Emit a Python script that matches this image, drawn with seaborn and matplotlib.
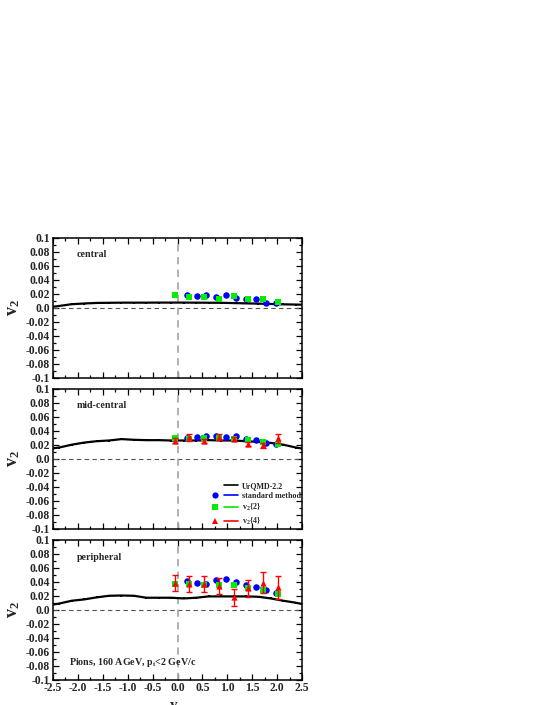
import numpy as np
import pandas as pd
import seaborn as sns
import matplotlib
matplotlib.use("Agg")
import matplotlib.pyplot as plt
from matplotlib.lines import Line2D
from matplotlib.legend_handler import HandlerTuple
from matplotlib.ticker import MultipleLocator, FixedLocator, FixedFormatter

# ---------------- data ----------------
model_x = [-2.5, -2.375, -2.125, -1.875, -1.625, -1.375, -1.125, -0.875, -0.625, -0.375, -0.125,
           0.125, 0.375, 0.625, 0.875, 1.125, 1.375, 1.625, 1.875, 2.125, 2.375, 2.5]
central_model = [0.0014, 0.0025, 0.005, 0.006, 0.0068, 0.007, 0.0072, 0.0072, 0.0072, 0.0073, 0.0073,
                 0.0073, 0.0072, 0.0071, 0.007, 0.0066, 0.0062, 0.0058, 0.0053, 0.0048, 0.0045, 0.0043]
mid_model = [0.0148, 0.016, 0.020, 0.023, 0.025, 0.026, 0.028, 0.027, 0.0265, 0.0265, 0.026,
             0.026, 0.026, 0.0265, 0.026, 0.026, 0.025, 0.024, 0.0225, 0.020, 0.016, 0.0145]
peri_model = [0.007, 0.0085, 0.0125, 0.0144, 0.0173, 0.0196, 0.020, 0.0196, 0.0168, 0.0168, 0.0168,
              0.0158, 0.0168, 0.0187, 0.0187, 0.0187, 0.0187, 0.0182, 0.0158, 0.0125, 0.0097, 0.0078]

std_x = [0.19, 0.39, 0.58, 0.78, 0.98, 1.18, 1.38, 1.58, 1.78, 1.97]
central_std = [0.0186, 0.0167, 0.0186, 0.0149, 0.0186, 0.0134, 0.012, 0.0125, 0.0063, 0.0072]
mid_std = [0.0296, 0.031, 0.0324, 0.032, 0.0306, 0.032, 0.028, 0.0262, 0.0229, 0.0214]
peri_std = [0.041, 0.038, 0.036, 0.042, 0.0433, 0.040, 0.0357, 0.0324, 0.0272, 0.023]

cum_x = [-0.06, 0.23, 0.535, 0.83, 1.13, 1.42, 1.725, 2.02]
central_v22 = [0.0177, 0.0149, 0.0157, 0.0129, 0.0163, 0.012, 0.0125, 0.0087]
mid_v22 = [0.029, 0.0286, 0.030, 0.0296, 0.028, 0.0262, 0.0234, 0.021]
peri_v22 = [0.0366, 0.037, 0.0357, 0.0352, 0.0348, 0.0305, 0.0272, 0.0215]
mid_v24 = [0.026, 0.0306, 0.0250, 0.031, 0.028, 0.0205, 0.019, 0.029]
mid_v24_err = [0.003, 0.005, 0.003, 0.004, 0.003, 0.003, 0.004, 0.006]
peri_v24 = [0.038, 0.0366, 0.0366, 0.0338, 0.0173, 0.0305, 0.0385, 0.0315]
peri_v24_err = [0.012, 0.011, 0.011, 0.011, 0.012, 0.012, 0.015, 0.016]

panel_names = ["central", "mid-central", "peripheral"]
ytick_vals = [-0.1, -0.08, -0.06, -0.04, -0.02, 0.0, 0.02, 0.04, 0.06, 0.08, 0.1]
ytick_labels = ["-0.1", "-0.08", "-0.06", "-0.04", "-0.02", "0.0", "0.02", "0.04", "0.06", "0.08", "0.1"]
xtick_vals = [-2.5, -2.0, -1.5, -1.0, -0.5, 0.0, 0.5, 1.0, 1.5, 2.0, 2.5]
xtick_labels = ["-2.5", "-2.0", "-1.5", "-1.0", "-0.5", "0.0", "0.5", "1.0", "1.5", "2.0", "2.5"]
legend_labels = ["UrQMD-2.2", "standard method", "v$_2${2}", "v$_2${4}"]
note_text = "Pions, 160 AGeV, p$_\\mathrm{t}$<2 GeV/c"

# ---------------- style ----------------
sns.set_style("ticks")
plt.rcParams["font.family"] = ["Liberation Serif", "DejaVu Serif"]
plt.rcParams["font.weight"] = "bold"
plt.rcParams["mathtext.fontset"] = "custom"
plt.rcParams["mathtext.rm"] = "Liberation Serif:bold"
plt.rcParams["mathtext.it"] = "Liberation Serif:bold"
plt.rcParams["mathtext.bf"] = "Liberation Serif:bold"

BLUE = "#0000ff"
GREEN = "#00ee00"
RED = "#ff0000"

W, H = 545, 705
fig = plt.figure(figsize=(W / 100, H / 100), dpi=100)
fig.patch.set_facecolor("white")

left_px, right_px = 53, 302
panel_tops = [237.7, 388.7, 539.5]
panel_h = 140.0

models = [central_model, mid_model, peri_model]
stds = [central_std, mid_std, peri_std]
v22s = [central_v22, mid_v22, peri_v22]
v24s = [None, mid_v24, peri_v24]
v24errs = [None, mid_v24_err, peri_v24_err]

axes = []
for i in range(3):
    top = panel_tops[i]
    ax = fig.add_axes([left_px / W, 1 - (top + panel_h) / H, (right_px - left_px) / W, panel_h / H])
    axes.append(ax)
    ax.set_xlim(-2.5, 2.5)
    ax.set_ylim(-0.1, 0.1)

    ax.axhline(0, color="#555555", ls=(0, (4, 3)), lw=0.8, zorder=1)
    ax.axvline(0, color="#aaaaaa", ls=(0, (4, 3)), lw=1.3, zorder=1)

    dfm = pd.DataFrame({"y": model_x, "v2": models[i]})
    sns.lineplot(data=dfm, x="y", y="v2", ax=ax, color="black", lw=1.6, marker="s",
                 markersize=1.9, markeredgewidth=0, markevery=list(range(1, len(model_x) - 1)),
                 sort=False, estimator=None, legend=False, zorder=3)

    dfs = pd.DataFrame({"y": std_x, "v2": stds[i]})
    sns.scatterplot(data=dfs, x="y", y="v2", ax=ax, color=BLUE, marker="o", s=22,
                    linewidth=0, legend=False, zorder=4)
    dfc = pd.DataFrame({"y": cum_x, "v2": v22s[i]})
    sns.scatterplot(data=dfc, x="y", y="v2", ax=ax, color=GREEN, marker="s", s=24,
                    linewidth=0, legend=False, zorder=5)
    if v24s[i] is not None:
        ax.errorbar(cum_x, v24s[i], yerr=v24errs[i], fmt="none", ecolor=RED, elinewidth=1.0,
                    capsize=2.2, capthick=1.0, zorder=6)
        dft = pd.DataFrame({"y": cum_x, "v2": v24s[i]})
        sns.scatterplot(data=dft, x="y", y="v2", ax=ax, color=RED, marker="^", s=20,
                        linewidth=0, legend=False, zorder=7)

    ax.yaxis.set_major_locator(FixedLocator(ytick_vals))
    ax.yaxis.set_major_formatter(FixedFormatter(ytick_labels))
    ax.yaxis.set_minor_locator(MultipleLocator(0.01))
    ax.xaxis.set_major_locator(FixedLocator(xtick_vals))
    ax.xaxis.set_minor_locator(MultipleLocator(0.25))
    if i == 2:
        ax.xaxis.set_major_formatter(FixedFormatter(xtick_labels))
    else:
        ax.set_xticklabels([])

    ax.tick_params(which="both", direction="in", top=True, right=True, width=0.9, color="black")
    ax.tick_params(which="major", length=4.0, labelsize=8.4, pad=2)
    ax.tick_params(which="minor", length=2.3)
    for lab in ax.get_xticklabels() + ax.get_yticklabels():
        lab.set_fontweight("bold")
    for sp in ax.spines.values():
        sp.set_linewidth(1.1)
        sp.set_color("black")

    ax.set_xlabel("")
    ax.set_ylabel("v$_2$", fontsize=13, fontweight="bold", rotation=90, va="center")
    ax.yaxis.set_label_coords(-(left_px - 14) / (right_px - left_px), 0.5)

    ax.text(0.096, 0.88 if i < 2 else 0.875, panel_names[i], transform=ax.transAxes,
            fontsize=7.2, fontweight="bold", ha="left", va="center")

axes[2].text(0.064, 0.118, note_text, transform=axes[2].transAxes, fontsize=7.2,
             fontweight="bold", ha="left", va="center")

fig.text(174 / W, 1 - 699 / H, "y", fontsize=11, fontweight="bold", ha="center", va="top")

# legend in mid-central panel
h_model = (Line2D([], [], ls="none"), Line2D([], [], color="black", lw=1.2))
h_std = (Line2D([], [], ls="none", marker="o", color=BLUE, markersize=4.5, markeredgewidth=0),
         Line2D([], [], color=BLUE, lw=1.2))
h_v22 = (Line2D([], [], ls="none", marker="s", color=GREEN, markersize=4.5, markeredgewidth=0),
         Line2D([], [], color=GREEN, lw=1.2))
h_v24 = (Line2D([], [], ls="none", marker="^", color=RED, markersize=4.5, markeredgewidth=0),
         Line2D([], [], color=RED, lw=1.2))
leg = axes[1].legend([h_model, h_std, h_v22, h_v24], legend_labels,
                     handler_map={tuple: HandlerTuple(ndivide=None, pad=0.3)},
                     loc="lower left", bbox_to_anchor=(0.625, 0.015), frameon=False,
                     handlelength=3.6, handletextpad=0.5, labelspacing=0.25,
                     borderpad=0, borderaxespad=0, prop={"weight": "bold", "size": 5.8})

fig.savefig("out.png", dpi=100, facecolor="white")
